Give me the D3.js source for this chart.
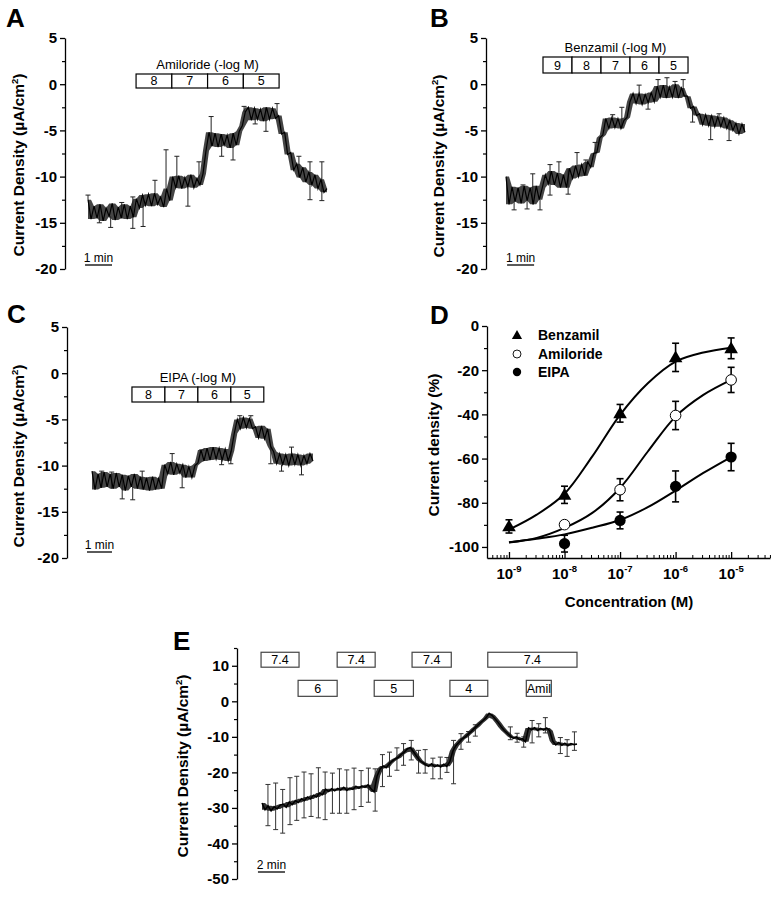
<!DOCTYPE html>
<html><head><meta charset="utf-8">
<script src="https://cdn.jsdelivr.net/npm/d3@7"></script>
<style>body{margin:0;background:#fff}svg{display:block}</style>
</head><body>
<svg id="chart" width="775" height="900"></svg>
<script>
// ================= DATA =================
// Panels A–C: mean short-circuit current density traces (µA/cm²), uniformly sampled over the recording
const traceMinutes = 8.85;
const ampA = [-12.5,-14.6,-13.2,-14.5,-13.0,-14.8,-13.4,-14.3,-12.9,-14.7,-13.3,-14.5,-13.0,-14.6,-13.2,-14.4,
  -12.4,-13.4,-12.0,-13.1,-11.9,-13.2,-11.8,-13.0,-12.2,-13.3,-11.3,-12.6,
  -10.0,-11.2,-9.9,-11.3,-10.1,-11.1,-9.8,-11.2,-10.2,-10.9,-9.7,-7.2,
  -5.2,-6.7,-5.3,-6.8,-5.4,-6.6,-5.5,-6.9,-5.3,-6.6,-5.1,-4.5,-3.0,
  -2.5,-3.9,-2.6,-3.8,-2.7,-4.0,-2.5,-3.8,-2.6,-3.7,
  -3.4,-5.4,-5.2,-7.6,-7.4,-9.3,-8.6,-10.1,-9.0,-10.6,-9.5,-10.9,-9.8,-11.3,-10.3,-11.7,-11.3];
const errA = [[0,-12.0],[0.42,-15.0],[0.84,-15.5],[1.25,-12.8],[1.66,-12.2],[1.66,-15.6],[2.04,-15.4],[2.48,-10.4],
  [2.89,-7.1],[3.29,-7.8],[3.70,-13.2],[4.11,-8.4],[4.56,-3.5],[4.95,-7.8],[5.37,-8.2],[5.78,-2.4],[6.19,-4.3],
  [6.59,-5.1],[7.0,-2.1],[7.81,-7.8],[8.22,-8.4],[8.22,-12.5],[8.66,-8.4],[8.66,-12.6]];
const ampB = [-10.0,-13.0,-11.1,-12.7,-11.2,-12.9,-11.0,-12.6,-11.2,-13.0,-11.0,-12.5,-11.2,-9.8,
  -10.8,-9.4,-10.9,-9.6,-11.2,-9.8,-11.2,-9.1,-10.2,-8.8,-10.0,-8.7,-9.9,-8.4,-9.0,
  -7.5,-7.4,-5.8,-5.5,-3.7,-4.8,-3.6,-4.7,-3.7,-4.8,-3.9,-3.6,-1.9,
  -1.0,-2.1,-1.0,-2.2,-1.1,-2.0,-0.9,-1.9,-0.2,-1.4,-0.1,-1.5,-0.3,-1.4,0.0,-1.5,-0.4,-1.3,
  -1.3,-2.6,-2.4,-3.4,-3.2,-4.4,-3.3,-4.5,-3.4,-4.6,-3.5,-4.6,-3.6,-4.8,-3.9,-5.0,-4.2,-5.4,-4.3,-5.2];
const errB = [[0.3,-13.6],[0.63,-10.9],[0.78,-13.5],[0.99,-9.7],[1.26,-13.6],[1.63,-8.7],[1.63,-12.0],[1.96,-8.4],
  [2.30,-11.9],[2.63,-7.4],[2.96,-8.2],[3.30,-6.3],[3.95,-3.3],[4.29,-2.5],[4.93,-0.1],[5.26,-2.7],[5.63,0.5],
  [5.96,0.7],[6.26,0.3],[6.56,0.5],[6.91,-4.1],[7.58,-6.0],[7.89,-3.2],[8.26,-6.1]];
const ampC = [-10.6,-12.6,-10.9,-12.4,-10.7,-12.3,-10.9,-12.5,-10.8,-12.3,-11.0,-12.7,-11.1,-12.3,-10.9,-12.5,
  -11.2,-12.6,-11.3,-12.7,-11.2,-12.6,-11.4,-12.5,-9.9,-10.9,-9.6,-11.0,-9.8,-10.8,-9.9,
  -11.3,-10.1,-11.3,-10.0,-9.7,-8.3,-9.5,-8.1,-9.4,-8.0,-9.3,-8.1,-9.4,-8.2,-9.5,-8.4,-6.5,
  -5.0,-6.0,-4.8,-5.9,-4.9,-6.0,-5.8,-7.0,-5.7,-7.1,-6.0,-7.9,-8.5,
  -9.8,-8.7,-9.9,-8.8,-10.0,-8.7,-9.9,-8.8,-10.0,-8.9,-9.8,-8.7,-9.5];
const errC = [[0.39,-10.6],[0.79,-10.7],[1.21,-13.6],[1.63,-13.7],[2.01,-10.6],[3.21,-8.7],[3.61,-12.4],
  [4.39,-8.3],[5.19,-9.9],[5.56,-9.8],[5.92,-4.6],[6.36,-4.6],[7.16,-9.8],[7.59,-10.6],[7.99,-8.0],[8.39,-11.0]];

const amilorideDoses = ["8","7","6","5"];
const benzamilDoses = ["9","8","7","6","5"];
const eipaDoses = ["8","7","6","5"];
const doseStartA = 1.78, doseLenA = 1.324;   // min
const doseStartB = 1.37, doseLenB = 1.074;
const doseStartC = 1.60, doseLenC = 1.32;

// Panel D: concentration–response (percent of baseline current)
const logConc = [-9,-8,-7,-6,-5];
const benzMean = [-90.7,-76.4,-39.5,-14.2,-10.1];
const benzErr  = [3.0,3.9,4.0,6.4,4.7];
const amilMean = [null,-89.9,-74.1,-40.5,-24.4];
const amilErr  = [null,0.8,5.0,6.4,5.7];
const eipaMean = [null,-98.5,-88.0,-72.6,-59.3];
const eipaErr  = [null,3.8,3.8,7.0,6.2];
const fitLogC  = [-9,-8.5,-8,-7.5,-7,-6.5,-6,-5.5,-5];
const benzFit  = [-92.2,-85.4,-75.9,-59.0,-40.2,-25.9,-16.1,-12.0,-9.8];
const amilFit  = [-97.9,-95.9,-91.4,-84.6,-73.3,-56.8,-41.0,-31.2,-24.4];
const eipaFit  = [-98.0,-96.3,-94.3,-91.3,-87.8,-82.0,-74.5,-66.5,-59.3];
const decadeLabels = ["-9","-8","-7","-6","-5"];
const legendNames = ["Benzamil","Amiloride","EIPA"];

// Panel E: pH protocol trace
const traceMinutesE = 23.3;
const ampE = [-28.6,-30.5,-29.4,-30.8,-29.6,-30.3,-29.2,
  -28.9,-29.8,-28.3,-29.1,-27.9,-28.5,-27.4,-28.0,-26.9,-27.5,-26.4,-26.9,-25.8,-26.3,
  -24.7,-25.4,-24.6,-25.2,-24.5,-25.0,-24.2,-25.1,-24.4,-24.8,-23.9,-24.5,-23.8,
  -24.2,-23.5,-24.6,-25.5,-21.0,-19.0,-18.2,-18.7,
  -17.6,-16.8,-16.2,-15.8,-14.9,-14.3,-13.4,-13.0,-14.2,-15.4,-16.6,-17.2,
  -17.8,-18.3,-17.6,-18.4,-17.9,-18.5,-17.7,-18.3,-17.0,-14.0,-12.5,
  -11.6,-10.6,-10.1,-9.3,-8.6,-7.7,-7.0,-6.1,-5.4,-4.6,-3.4,
  -4.0,-5.0,-6.0,-7.2,-8.2,-9.0,-9.8,-10.4,-10.0,-10.8,-10.5,-11.4,-7.5,
  -8.0,-7.4,-8.2,-7.6,-8.1,-7.5,-8.3,-11.2,
  -12.3,-11.6,-12.4,-11.8,-12.5,-11.9,-12.2,-12.0];
const errE = [[0.44,-35.0,-23.4],[1.01,-36.1,-23.0],[1.53,-37.1,-24.8],[2.07,-34.7,-21.5],[2.57,-33.5,-21.1],
  [3.11,-32.8,-19.9],[3.63,-32.4,-20.4],[4.17,-32.8,-18.7],[4.67,-33.3,-19.9],[5.21,-31.5,-20.2],[5.73,-31.5,-19.0],
  [6.27,-31.5,-19.3],[6.81,-30.5,-18.8],[7.33,-29.6,-19.5],[7.87,-28.4,-18.8],[8.37,-30.9,-19.0],[8.91,-24.0,-15.0],
  [9.43,-21.1,-14.3],[9.98,-19.4,-13.1],[10.47,-18.0,-11.9],[11.04,-16.5,-11.0],[11.58,-20.2,-13.8],[12.07,-20.2,-13.6],
  [12.64,-21.8,-16.0],[13.19,-21.8,-15.7],[13.68,-20.0,-15.8],[14.17,-23.2,-11.0],[14.72,-13.5,-9.1],[15.28,-11.5,-8.5],
  [15.78,-9.8,-6.6],[18.37,-10.8,-7.2],[18.87,-11.5,-9.0],[19.36,-12.9,-10.0],[19.98,-11.7,-5.4],[20.47,-10.0,-6.3],
  [20.96,-8.9,-4.6],[22.07,-14.7,-10.2],[22.57,-15.5,-10.8],[23.11,-13.8,-8.6]];
const phLabels = ["7.4","6","7.4","5","7.4","4","7.4","Amil"];
const phStart  = [-0.07,2.67,5.56,8.30,11.10,13.90,16.70,19.55];
const phEnd    = [2.74,5.56,8.37,11.20,14.00,16.70,23.30,21.40];
const phRow    = [0,1,0,1,0,1,0,1];

// ================= DRAWING =================
const FONT = "'Liberation Sans', Arial, Helvetica, sans-serif";
const svg = d3.select("#chart").attr("font-family", FONT);
svg.append("rect").attr("width",775).attr("height",900).attr("fill","#fff");

function styleAxis(ax, fs){
  ax.attr("font-family", FONT);
  ax.selectAll("text").attr("font-size",fs).attr("font-weight","bold").attr("fill","#000");
  ax.selectAll("line,path").attr("stroke","#000").attr("stroke-width",1.3);
}
function yAxis(x0, y, majors, minors){
  const ax = svg.append("g").attr("transform",`translate(${x0},0)`)
    .call(d3.axisLeft(y).tickValues(majors).tickSize(5).tickSizeOuter(0).tickPadding(3).tickFormat(d=>String(d)));
  styleAxis(ax, 15);
  const mn = svg.append("g").attr("transform",`translate(${x0},0)`)
    .call(d3.axisLeft(y).tickValues(minors).tickSize(3).tickSizeOuter(0).tickFormat(""));
  mn.select(".domain").remove();
  mn.selectAll("line").attr("stroke","#000").attr("stroke-width",1.2);
}
function yLabel(x, y, main, sup, tail){
  const t = svg.append("text").attr("transform",`translate(${x},${y}) rotate(-90)`)
    .attr("text-anchor","middle").attr("font-weight","bold").attr("font-size",15.5);
  t.append("tspan").text(main);
  if (sup){
    t.append("tspan").attr("font-size",9.5).attr("dy",-6).text(sup);
    t.append("tspan").attr("dy",6).text(tail);
  }
}
function letter(ch, x, y){
  svg.append("text").attr("x",x).attr("y",y).attr("font-size",26).attr("font-weight","bold").text(ch);
}
function scaleBar(x, minutes, t0, y, label){
  const x0 = x(t0), x1 = x(t0 + minutes);
  svg.append("line").attr("x1",x0).attr("x2",x1).attr("y1",y).attr("y2",y).attr("stroke","#000").attr("stroke-width",1.3);
  svg.append("text").attr("x",(x0+x1)/2).attr("y",y-3).attr("text-anchor","middle").attr("font-size",12).text(label);
}

function tracePanel(c){
  const y = d3.scaleLinear().domain(c.yDomain).range([c.yBot, c.yTop]);
  const x = d3.scaleLinear().domain([0, c.minutes]).range([c.x0, c.x1]);
  yAxis(c.axisX, y, c.majors, c.minors);
  const n = c.values.length;
  const pts = c.values.map((v,i)=>[i*c.minutes/(n-1), v]);
  const at = t => pts[Math.max(0, Math.min(n-1, Math.round(t/c.minutes*(n-1))))][1];
  const eg = svg.append("g").attr("stroke", c.errColor).attr("stroke-width",1).attr("fill","none");
  c.errs.forEach(e=>{
    const xe = x(e[0]);
    if (e.length === 2){
      const ys = y(at(e[0])), ye = y(e[1]);
      eg.append("line").attr("x1",xe).attr("x2",xe).attr("y1",ys).attr("y2",ye);
      eg.append("line").attr("x1",xe-2.5).attr("x2",xe+2.5).attr("y1",ye).attr("y2",ye);
    } else {
      const ya = y(e[1]), yb = y(e[2]);
      eg.append("line").attr("x1",xe).attr("x2",xe).attr("y1",ya).attr("y2",yb);
      eg.append("line").attr("x1",xe-2.5).attr("x2",xe+2.5).attr("y1",ya).attr("y2",ya);
      eg.append("line").attr("x1",xe-2.5).attr("x2",xe+2.5).attr("y1",yb).attr("y2",yb);
    }
  });
  // dark envelope of neighbouring samples under the black sampled trace
  const lo = pts.map((p,i)=>d3.min(pts.slice(Math.max(0,i-1), i+2), d=>d[1]));
  const hi = pts.map((p,i)=>d3.max(pts.slice(Math.max(0,i-1), i+2), d=>d[1]));
  svg.append("path").datum(pts)
    .attr("d", d3.area().x(d=>x(d[0])).y0((d,i)=>y(lo[i])).y1((d,i)=>y(hi[i])))
    .attr("fill","#1c1c1c").attr("fill-opacity",c.bandOpacity);
  svg.append("path").datum(pts).attr("d", d3.line().x(d=>x(d[0])).y(d=>y(d[1])))
    .attr("fill","none").attr("stroke","#000").attr("stroke-width",c.lw);
  return {x, y};
}

function doseBoxes(x, start, len, labels, top, bot, title){
  const g = svg.append("g");
  labels.forEach((l,i)=>{
    const a = x(start + i*len), b = x(start + (i+1)*len);
    g.append("rect").attr("x",a).attr("y",top).attr("width",b-a).attr("height",bot-top)
      .attr("fill","#fff").attr("stroke","#000").attr("stroke-width",1.2);
    g.append("text").attr("x",(a+b)/2).attr("y",bot-3).attr("text-anchor","middle").attr("font-size",12.5).text(l);
  });
  const a = x(start), b = x(start + labels.length*len);
  g.append("text").attr("x",(a+b)/2).attr("y",top-5).attr("text-anchor","middle").attr("font-size",13).text(title);
}

// ---- Panel A
letter("A", 6, 27);
yLabel(24, 165, "Current Density (µA/cm", "2", ")");
let sA = tracePanel({yDomain:[-20,5], yTop:38, yBot:269, axisX:65, x0:88, x1:327, minutes:traceMinutes,
  majors:d3.range(-20,5.01,5), minors:d3.range(-17.5,5,5), values:ampA, errs:errA, errColor:"#222", lw:1.2, bandOpacity:0.82});
doseBoxes(sA.x, doseStartA, doseLenA, amilorideDoses, 74, 88, "Amiloride (-log M)");
scaleBar(sA.x, 1, -0.11, 265, "1 min");

// ---- Panel B
letter("B", 430, 27);
yLabel(444, 166, "Current Density (µA/cm", "2", ")");
let sB = tracePanel({yDomain:[-20,5], yTop:38, yBot:269, axisX:486, x0:506, x1:745, minutes:traceMinutes,
  majors:d3.range(-20,5.01,5), minors:d3.range(-17.5,5,5), values:ampB, errs:errB, errColor:"#222", lw:1.2, bandOpacity:0.82});
doseBoxes(sB.x, doseStartB, doseLenB, benzamilDoses, 57, 73, "Benzamil (-log M)");
scaleBar(sB.x, 1, 0.04, 265, "1 min");

// ---- Panel C
letter("C", 7, 323);
yLabel(24, 456, "Current Density (µA/cm", "2", ")");
let sC = tracePanel({yDomain:[-20,5], yTop:327, yBot:558, axisX:67, x0:92, x1:313, minutes:traceMinutes,
  majors:d3.range(-20,5.01,5), minors:d3.range(-17.5,5,5), values:ampC, errs:errC, errColor:"#222", lw:1.2, bandOpacity:0.82});
doseBoxes(sC.x, doseStartC, doseLenC, eipaDoses, 387, 402, "EIPA (-log M)");
scaleBar(sC.x, 1, -0.2, 552, "1 min");

// ---- Panel D
letter("D", 430, 324);
(function(){
  const x = d3.scaleLog().domain([Math.pow(10,-9.396), Math.pow(10,-4.30)]).range([487,770]);
  const y = d3.scaleLinear().domain([-105,0]).range([558,326]);
  yAxis(487, y, d3.range(-100,0.01,20), d3.range(-90,0,20));
  const majors = logConc.map(e=>Math.pow(10,e));
  const ax = svg.append("g").attr("transform","translate(0,558)")
    .call(d3.axisBottom(x).tickValues(majors).tickSize(-6).tickSizeOuter(0).tickFormat(""));
  styleAxis(ax, 14);
  const minorVals = [];
  for (let e=-10; e<=-5; e++) for (let k=2;k<=9;k++){ const v=k*Math.pow(10,e); if (v>x.domain()[0] && v<x.domain()[1]) minorVals.push(v); }
  const mn = svg.append("g").attr("transform","translate(0,558)")
    .call(d3.axisBottom(x).tickValues(minorVals).tickSize(-3).tickSizeOuter(0).tickFormat(""));
  mn.select(".domain").remove();
  mn.selectAll("line").attr("stroke","#000").attr("stroke-width",1);
  decadeLabels.forEach((lab,i)=>{
    const t = svg.append("text").attr("x",x(majors[i])).attr("y",579).attr("text-anchor","middle")
      .attr("font-size",15).attr("font-weight","bold");
    t.append("tspan").text("10");
    t.append("tspan").attr("dy",-7).attr("font-size",9.5).text(lab);
  });
  svg.append("text").attr("x",629).attr("y",607).attr("text-anchor","middle").attr("font-size",15)
    .attr("font-weight","bold").text("Concentration (M)");
  yLabel(439, 445, "Current density (%)");

  const line = d3.line().x(d=>x(Math.pow(10,d[0]))).y(d=>y(d[1])).curve(d3.curveCatmullRom.alpha(0.5));
  [benzFit, amilFit, eipaFit].forEach(f=>{
    svg.append("path").datum(fitLogC.map((c,i)=>[c,f[i]])).attr("d",line)
      .attr("fill","none").attr("stroke","#000").attr("stroke-width",2);
  });
  const series = [
    {m:benzMean, e:benzErr, sym:"tri"},
    {m:amilMean, e:amilErr, sym:"open"},
    {m:eipaMean, e:eipaErr, sym:"fill"}];
  series.forEach(s=>{
    s.m.forEach((v,i)=>{
      if (v===null) return;
      const cx = x(Math.pow(10,logConc[i]));
      const ya = y(v + s.e[i]), yb = y(v - s.e[i]);
      svg.append("line").attr("x1",cx).attr("x2",cx).attr("y1",ya).attr("y2",yb).attr("stroke","#000").attr("stroke-width",1.6);
      [ya,yb].forEach(yy=>svg.append("line").attr("x1",cx-3.5).attr("x2",cx+3.5).attr("y1",yy).attr("y2",yy).attr("stroke","#000").attr("stroke-width",1.6));
    });
  });
  function marker(sym, cx, cy){
    if (sym==="tri") svg.append("path").attr("d",d3.symbol(d3.symbolTriangle,80)()).attr("transform",`translate(${cx},${cy+1})`).attr("fill","#000");
    else if (sym==="open") svg.append("circle").attr("cx",cx).attr("cy",cy).attr("r",5.3).attr("fill","#fff").attr("stroke","#000").attr("stroke-width",1);
    else svg.append("circle").attr("cx",cx).attr("cy",cy).attr("r",5.6).attr("fill","#000");
  }
  series.forEach(s=>{
    s.m.forEach((v,i)=>{ if (v!==null) marker(s.sym, x(Math.pow(10,logConc[i])), y(v)); });
  });
  const ly = [335,354,372];
  series.forEach((s,i)=>{
    if (s.sym==="tri") svg.append("path").attr("d",d3.symbol(d3.symbolTriangle,45)()).attr("transform",`translate(517,${ly[i]+1})`).attr("fill","#000");
    else if (s.sym==="open") svg.append("circle").attr("cx",517).attr("cy",ly[i]).attr("r",4).attr("fill","#fff").attr("stroke","#000").attr("stroke-width",0.9);
    else svg.append("circle").attr("cx",517).attr("cy",ly[i]).attr("r",4.2).attr("fill","#000");
    svg.append("text").attr("x",538).attr("y",ly[i]+5).attr("font-size",14).attr("font-weight","bold").text(legendNames[i]);
  });
})();

// ---- Panel E
letter("E", 173, 650);
yLabel(188, 766, "Current Density (µA/cm", "2", ")");
let sE = tracePanel({yDomain:[-50,15], yTop:648, yBot:879, axisX:237, x0:262, x1:577, minutes:traceMinutesE,
  majors:d3.range(-50,10.01,10), minors:d3.range(-45,15.01,10), values:ampE, errs:errE, errColor:"#333", lw:1.5, bandOpacity:0.9});
(function(){
  const rows = [[13.8,9.6],[5.9,1.4]];
  phLabels.forEach((l,i)=>{
    const a = sE.x(phStart[i]), b = sE.x(phEnd[i]);
    const t = sE.y(rows[phRow[i]][0]), bt = sE.y(rows[phRow[i]][1]);
    svg.append("rect").attr("x",a).attr("y",t).attr("width",b-a).attr("height",bt-t)
      .attr("fill","#fff").attr("stroke","#444").attr("stroke-width",1.2);
    svg.append("text").attr("x",(a+b)/2).attr("y",bt-3.5).attr("text-anchor","middle").attr("font-size",12.5).text(l);
  });
})();
scaleBar(sE.x, 2, -0.3, 872, "2 min");
</script>
</body></html>
